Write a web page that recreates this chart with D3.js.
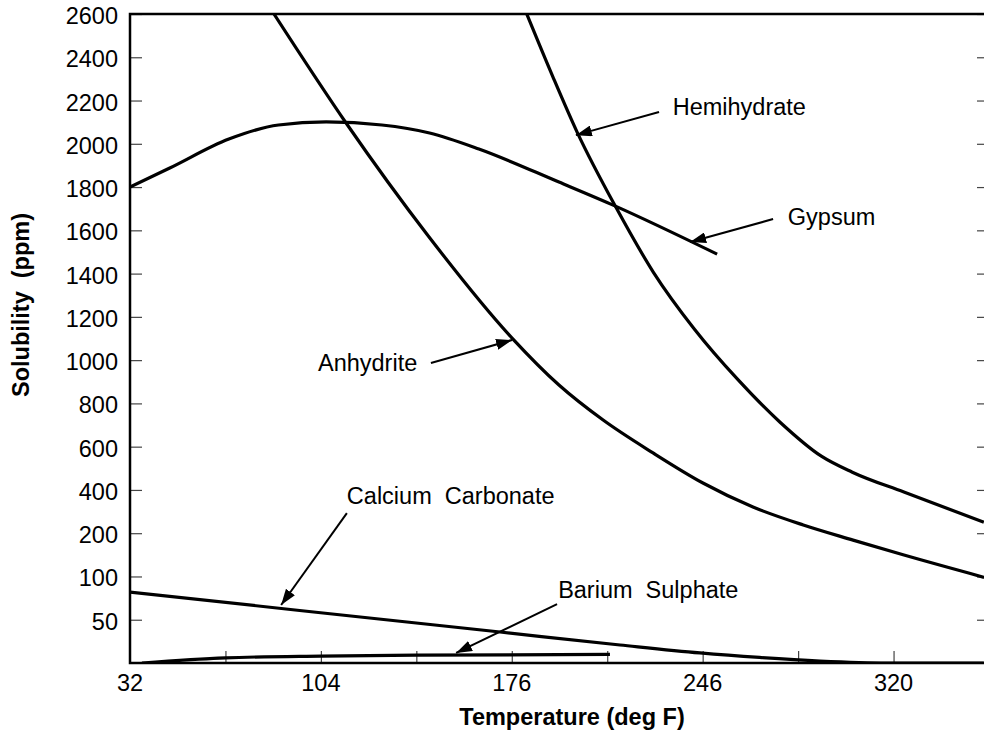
<!DOCTYPE html>
<html>
<head>
<meta charset="utf-8">
<script src="https://cdn.jsdelivr.net/npm/d3@7"></script>
<style>
body { margin: 0; background: #fff; }
text { font-family: Arial, "Liberation Sans", sans-serif; fill: #000; }
</style>
</head>
<body>
<div id="root"></div>
<script>
// axis values
const tempLabels = [32, 104, 176, 246, 320]
const tempTicks = [32, 68, 104, 140, 176, 211, 246, 283, 320, 357]
const ppmTicks = [0, 50, 100, 200, 400, 600, 800, 1000, 1200, 1400, 1600, 1800, 2000, 2200, 2400, 2600]

// curves: [deg F, ppm]
const gypsum = [[32,1800],[47,1888],[69.3,2022],[88,2087],[106,2101],[127,2087],[145,2050],[163.6,1976],[193.3,1823],[214,1712],[251.6,1490]]
const anhydrite = [[86.3,2600],[113.5,2096],[144.8,1569],[176.1,1102],[193.3,885],[209.5,723],[227.8,571],[246.1,432],[265.5,321],[285,238],[304.3,184],[323.7,150],[355.1,99]]
const hemihydrate = [[181.5,2600],[191,2312],[200,2053],[214,1711],[228,1405],[243,1143],[259.5,912],[276,713],[292,556],[304,482],[324,390],[355,251]]
const calciumCarbonate = [[32,82],[96,60.7],[171.6,35.8],[215.7,20.8],[245,11.6],[268,6.4],[291.5,2.3],[317.5,0],[355,0]]
const bariumSulphate = [[36.5,0],[68,6],[104,8],[140,9],[212,10]]

// labels: text anchor, arrow tail, arrow tip (deg F, ppm)
const labels = [
	{ name: "Hemihydrate", at: [235, 2133], from: [230, 2147], to: [199.5, 2040] },
	{ name: "Gypsum", at: [279, 1624], from: [273.3, 1652], to: [241.4, 1546] },
	{ name: "Anhydrite", at: [102.9, 950], from: [145.5, 987], to: [176.1, 1093] },
	{ name: "Calcium  Carbonate", at: [113.8, 335], from: [113.8, 293], to: [89, 67] },
	{ name: "Barium  Sulphate", at: [193, 75], from: [192.6, 68], to: [155, 11.6] },
]

const width = 984, height = 733
const plotLeft = 130, plotRight = 989, plotTop = 14, plotBottom = 663
const stepX = (plotRight - plotLeft) / (tempTicks.length - 1)
const stepY = (plotBottom - plotTop) / (ppmTicks.length - 1)
const fontSize = '23.5px'

const x = d3.scaleLinear()
	.domain(tempTicks)
	.range(tempTicks.map((d, i) => plotLeft + i * stepX))
const y = d3.scaleLinear()
	.domain(ppmTicks)
	.range(ppmTicks.map((d, i) => plotBottom - i * stepY))

const svg = d3.select('#root')
	.append('svg')
	.attr('width', width)
	.attr('height', height)

const defs = svg.append('defs')
defs.append('clipPath')
	.attr('id', 'plot')
	.append('rect')
	.attr('x', plotLeft).attr('y', plotTop)
	.attr('width', plotRight - plotLeft).attr('height', plotBottom - plotTop)

defs.append('marker')
	.attr('id', 'head')
	.attr('markerUnits', 'userSpaceOnUse')
	.attr('viewBox', '0 0 16 11')
	.attr('refX', 16).attr('refY', 5.5)
	.attr('markerWidth', 16).attr('markerHeight', 11)
	.attr('orient', 'auto')
	.append('path')
	.attr('d', 'M0,0 L16,5.5 L0,11 Z')
	.attr('fill', '#000')

// ticks (inside)
const tickStyle = g => g.selectAll('line').attr('stroke', '#444').attr('stroke-width', 1.2)

const yAxis = svg.append('g')
	.attr('transform', `translate(${plotLeft},0)`)
	.call(d3.axisRight(y).tickValues(ppmTicks.slice(1)).tickSize(12).tickFormat(''))
yAxis.select('.domain').remove()
tickStyle(yAxis)

const yAxisR = svg.append('g')
	.attr('transform', `translate(${plotRight},0)`)
	.call(d3.axisLeft(y).tickValues(ppmTicks.slice(1)).tickSize(12).tickFormat(''))
yAxisR.select('.domain').remove()
tickStyle(yAxisR)

const xAxis = svg.append('g')
	.attr('transform', `translate(0,${plotBottom})`)
	.call(d3.axisTop(x).tickValues(tempTicks.slice(1, -1)).tickSize(12).tickFormat(''))
xAxis.select('.domain').remove()
tickStyle(xAxis)

// tick labels
svg.append('g').selectAll('text')
	.data(ppmTicks.slice(1))
	.join('text')
	.attr('x', plotLeft - 12)
	.attr('y', d => y(d) + 10)
	.attr('text-anchor', 'end')
	.style('font-size', fontSize)
	.text(d => d)

svg.append('g').selectAll('text')
	.data(tempLabels)
	.join('text')
	.attr('x', d => x(d))
	.attr('y', plotBottom + 28)
	.attr('text-anchor', 'middle')
	.style('font-size', fontSize)
	.text(d => d)

// frame
svg.append('path')
	.attr('d', `M${plotRight},${plotTop} L${plotLeft},${plotTop} L${plotLeft},${plotBottom} L${plotRight},${plotBottom}`)
	.attr('fill', 'none')
	.attr('stroke', '#000')
	.attr('stroke-width', 2.5)

// curves
const line = d3.line()
	.x(d => x(d[0]))
	.y(d => y(d[1]))
	.curve(d3.curveMonotoneX)

const curves = svg.append('g').attr('clip-path', 'url(#plot)')
;[gypsum, anhydrite, hemihydrate, calciumCarbonate, bariumSulphate].forEach(series => {
	curves.append('path')
		.attr('d', line(series))
		.attr('fill', 'none')
		.attr('stroke', '#000')
		.attr('stroke-width', 3.2)
})

// annotations
const notes = svg.append('g')
notes.selectAll('line')
	.data(labels)
	.join('line')
	.attr('x1', d => x(d.from[0])).attr('y1', d => y(d.from[1]))
	.attr('x2', d => x(d.to[0])).attr('y2', d => y(d.to[1]))
	.attr('stroke', '#000')
	.attr('stroke-width', 2)
	.attr('marker-end', 'url(#head)')

notes.selectAll('text')
	.data(labels)
	.join('text')
	.attr('x', d => x(d.at[0]))
	.attr('y', d => y(d.at[1]))
	.style('font-size', fontSize)
	.style('white-space', 'pre')
	.text(d => d.name)

// axis titles
svg.append('text')
	.attr('x', 572)
	.attr('y', 725)
	.attr('text-anchor', 'middle')
	.style('font-size', fontSize)
	.style('font-weight', 'bold')
	.text('Temperature (deg F)')

svg.append('text')
	.attr('transform', 'translate(29,305) rotate(-90)')
	.attr('text-anchor', 'middle')
	.style('font-size', fontSize)
	.style('font-weight', 'bold')
	.style('white-space', 'pre')
	.text('Solubility  (ppm)')
</script>
</body>
</html>
